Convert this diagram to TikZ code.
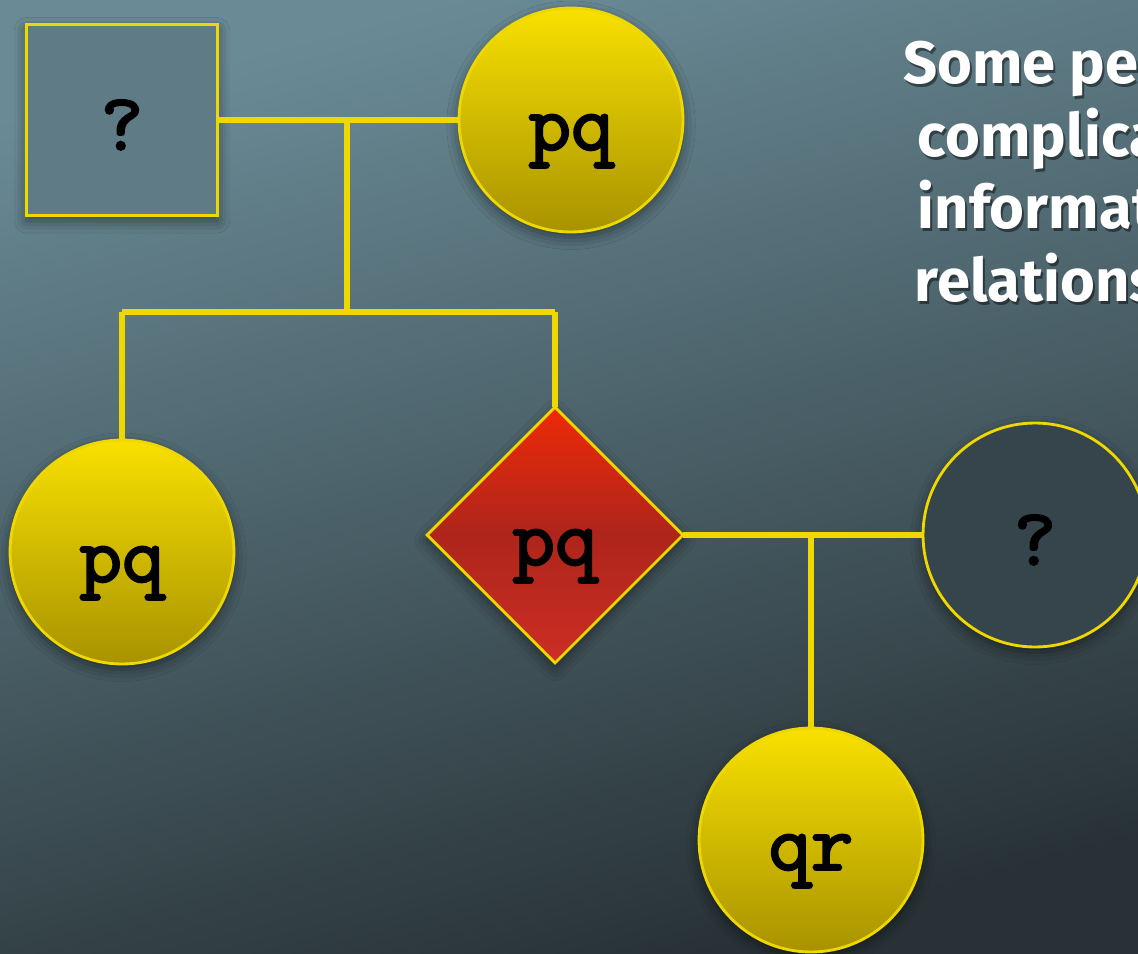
\documentclass[tikz,border=0pt]{standalone}
\usepackage{fontspec}
\setmainfont{Fira Sans}
\newfontfamily\codefont[FakeBold=2.5]{lmmono10-regular.otf}
\usetikzlibrary{shapes.geometric}
\usetikzlibrary{shadows.blur}
\definecolor{bgtop}{HTML}{6A8B96}
\definecolor{bgbot}{HTML}{283236}
\definecolor{gold}{HTML}{EED800}
\definecolor{yeltop}{HTML}{F8E000}
\definecolor{yelbot}{HTML}{A89300}
\definecolor{redtop}{HTML}{EE2A08}
\definecolor{redmid}{HTML}{AE251B}
\definecolor{redbot}{HTML}{CC2E24}
\definecolor{slate}{HTML}{5E7B86}
\definecolor{darkslate}{HTML}{35454B}
\tikzstyle{base}=[inner sep=0pt, outer sep=0pt]
\tikzstyle{person}=[base, draw=gold, line width=1.6pt, text=black,
    font=\codefont\fontsize{46}{46}\selectfont, text height=34pt, text depth=0pt,
    blur shadow={shadow xshift=0pt, shadow yshift=-3pt, shadow blur radius=7pt, shadow opacity=50}]
\tikzstyle{male}=[person, rectangle, minimum size=3.82cm]
\tikzstyle{female}=[person, circle, minimum size=4.48cm]
\tikzstyle{carrier}=[top color=yeltop, bottom color=yelbot]
\tikzstyle{affected}=[person, diamond, aspect=1, minimum width=5.12cm, minimum height=5.12cm,
    top color=redtop, bottom color=redbot, middle color=redmid]
\tikzstyle{link}=[draw=gold, line width=3.4pt]
\tikzstyle{words}=[base, anchor=north west, align=left,
    font=\bfseries\fontsize{34}{41.4}\selectfont]

\begin{document}
\begin{tikzpicture}[x=0.02cm, y=-0.02cm]
    % background
    \shade [top color=bgtop, bottom color=bgbot, shading angle=15] (0,0) rectangle (1138,953);
    \useasboundingbox (0,0) rectangle (1138,953);

    % first generation
    \node [male, fill=slate] (father) at (122,120) {?};
    \node [female, carrier] (mother) at (571,120) {pq};

    % second generation
    \node [female, carrier] (daughter) at (122,552) {pq};
    \node [affected] (son) at (555,535) {pq};
    \node [female, fill=darkslate] (wife) at (1035,535) {?};

    % third generation
    \node [female, carrier] (grandchild) at (811,840) {qr};

    % connectors
    \coordinate (couple1) at (347,120);
    \coordinate (sibs) at (347,312);
    \coordinate (sibl) at (122,312);
    \coordinate (sibr) at (555,312);
    \coordinate (couple2) at (811,535);
    \draw [link] (father.east) -- (mother.west);
    \draw [link] (couple1) -- (sibs);
    \draw [link] (sibl) -- (sibr);
    \draw [link] (sibl) -- (daughter.north);
    \draw [link] (sibr) -- (son.north);
    \draw [link] (son.east) -- (wife.west);
    \draw [link] (couple2) -- (grandchild.north);

    % caption (cut at the right edge), with its shadow
    \node [words, text=black, opacity=0.45] (captionshadow) at (905,44)
        {Some pe\\\hspace*{0.25em}complica\\\hspace*{0.25em}informat\\\hspace*{0.2em}relations};
    \node [words, text=white] (caption) at (903,41)
        {Some pe\\\hspace*{0.25em}complica\\\hspace*{0.25em}informat\\\hspace*{0.2em}relations};
\end{tikzpicture}
\end{document}
